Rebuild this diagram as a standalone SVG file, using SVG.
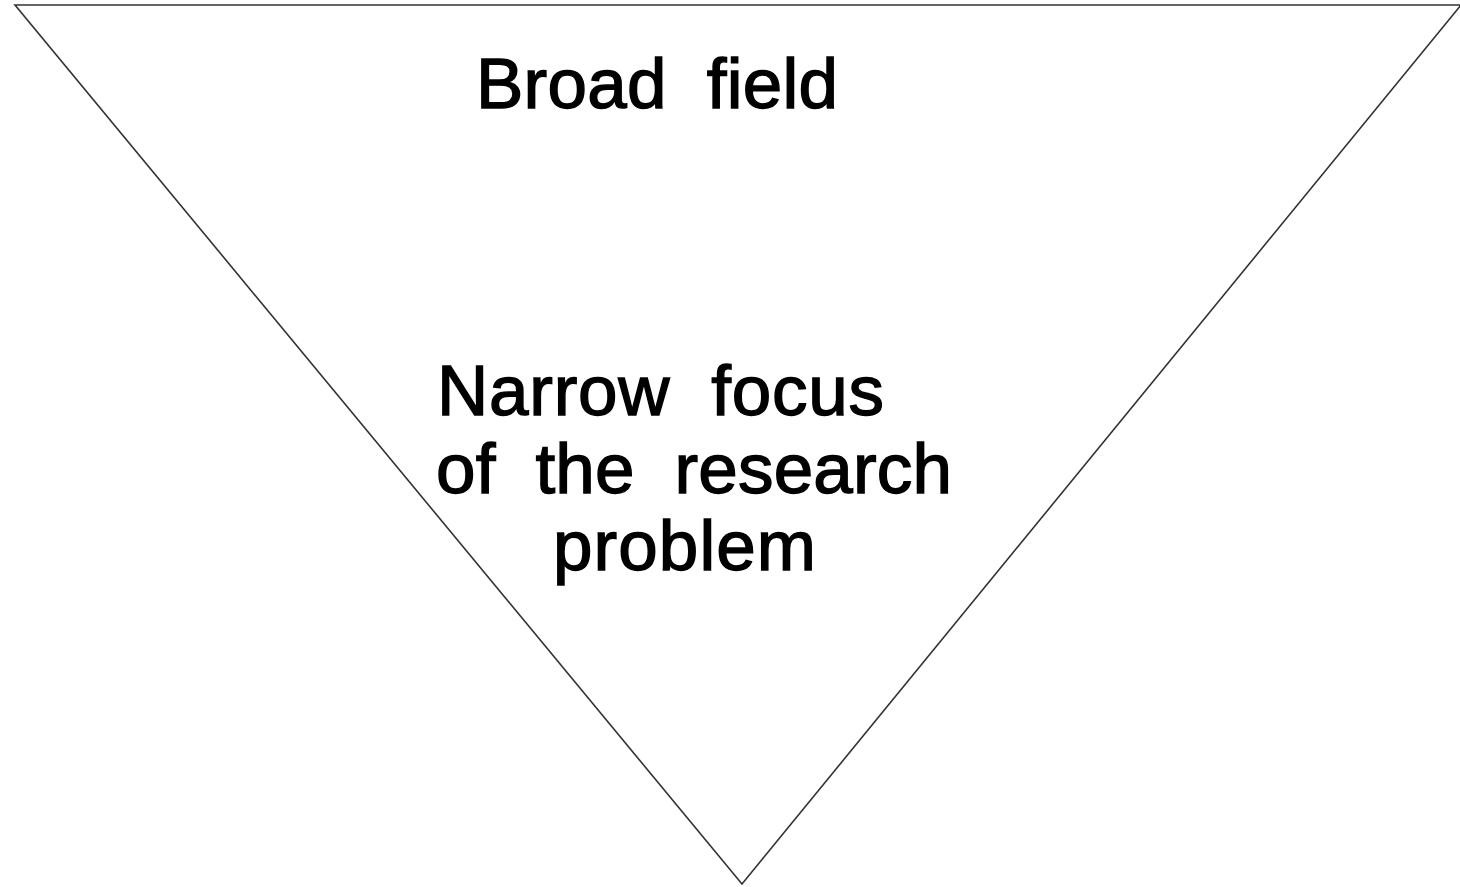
<svg xmlns="http://www.w3.org/2000/svg" width="1460" height="887" viewBox="0 0 1460 887">
<style>
.t{font-family:"Liberation Sans",Arial,sans-serif;font-size:71px;fill:#000;stroke:#000;stroke-width:1.4;white-space:pre}
</style>
<rect width="1460" height="887" fill="#fff"/>
<g id="funnel">
<polygon points="15,5 1461,5 742,884" fill="#fff" stroke="#333" stroke-width="1.6"/>
</g>
<g id="broad">
<text class="t" x="476" y="108" xml:space="preserve" textLength="362">Broad  field</text>
</g>
<g id="narrow">
<text class="t" x="437" y="415" xml:space="preserve" textLength="447">Narrow  focus</text>
<text class="t" x="436" y="493" xml:space="preserve" textLength="516">of  the  research</text>
<text class="t" x="553" y="570" xml:space="preserve" textLength="263">problem</text>
</g>
<g id="connectors"/>
</svg>
